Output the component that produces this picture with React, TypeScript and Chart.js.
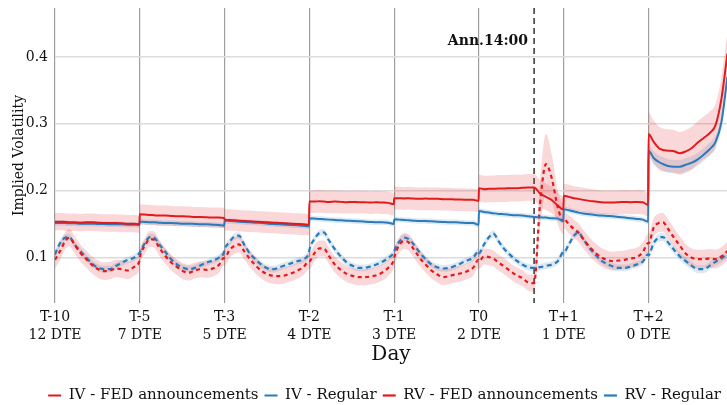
import React, { useEffect, useRef } from "react";
import { Chart, registerables } from "chart.js";

Chart.register(...registerables);

const FONT = "'DejaVu Serif', serif";
const RED = "#e31a1c";
const BLUE = "#2b7bba";
const RED_BAND = "rgba(227,26,28,0.17)";
const BLUE_BAND = "rgba(43,123,186,0.16)";

const DAY_LABELS = ["T-10", "T-5", "T-3", "T-2", "T-1", "T0", "T+1", "T+2"];
const DTE_LABELS = ["12 DTE", "7 DTE", "5 DTE", "4 DTE", "3 DTE", "2 DTE", "1 DTE", "0 DTE"];
const Y_TICKS = [0.1, 0.2, 0.3, 0.4];
const X_MAX = 7.925;
const Y_MIN = 0.0325;
const Y_MAX = 0.473;
const ANN_X = 5.65;
const ANN_LABEL = "Ann.14:00";
const ANN_LABEL_Y = 0.4235;

// position of each intraday sample within a day (fraction of the day)
const DAY_FRAC = [0, 0.06, 0.12, 0.17, 0.23, 0.3, 0.37, 0.44, 0.51, 0.58, 0.65, 0.72, 0.79, 0.86, 0.93, 0.995];

const IV_FED = [
  [0.154, 0.154, 0.1535, 0.153, 0.153, 0.1525, 0.153, 0.153, 0.1525, 0.152, 0.152, 0.152, 0.1515, 0.151, 0.151, 0.15],
  [0.165, 0.1645, 0.164, 0.1635, 0.163, 0.163, 0.1625, 0.162, 0.162, 0.1615, 0.161, 0.161, 0.1605, 0.16, 0.16, 0.1595],
  [0.157, 0.1565, 0.156, 0.1555, 0.155, 0.1545, 0.154, 0.1535, 0.153, 0.1525, 0.152, 0.1515, 0.151, 0.1505, 0.15, 0.1495],
  [0.184, 0.184, 0.1845, 0.184, 0.1835, 0.184, 0.1835, 0.183, 0.1835, 0.183, 0.183, 0.1825, 0.183, 0.1825, 0.182, 0.18],
  [0.189, 0.189, 0.1885, 0.189, 0.1885, 0.188, 0.1885, 0.188, 0.188, 0.1875, 0.1875, 0.187, 0.187, 0.1865, 0.1865, 0.185],
  [0.204, 0.2025, 0.203, 0.203, 0.2035, 0.2035, 0.204, 0.204, 0.2045, 0.205, 0.205, 0.196, 0.191, 0.186, 0.178, 0.172],
  [0.1925, 0.191, 0.189, 0.188, 0.1865, 0.185, 0.184, 0.183, 0.1825, 0.1825, 0.183, 0.1835, 0.183, 0.1835, 0.183, 0.179],
  [0.285, 0.273, 0.264, 0.261, 0.26, 0.259, 0.256, 0.259, 0.264, 0.272, 0.279, 0.286, 0.298, 0.338, 0.405],
];

const IV_REG = [
  [0.152, 0.152, 0.152, 0.1515, 0.1515, 0.151, 0.151, 0.151, 0.1505, 0.1505, 0.15, 0.15, 0.15, 0.1495, 0.1495, 0.149],
  [0.154, 0.1535, 0.153, 0.153, 0.1525, 0.152, 0.152, 0.1515, 0.151, 0.151, 0.1505, 0.15, 0.15, 0.1495, 0.149, 0.148],
  [0.1555, 0.155, 0.1545, 0.154, 0.1535, 0.153, 0.1525, 0.152, 0.151, 0.1505, 0.15, 0.1495, 0.149, 0.1485, 0.148, 0.147],
  [0.159, 0.1585, 0.158, 0.1575, 0.157, 0.1565, 0.156, 0.1555, 0.155, 0.1545, 0.154, 0.1535, 0.153, 0.153, 0.1525, 0.1505],
  [0.1575, 0.157, 0.1565, 0.156, 0.1555, 0.155, 0.155, 0.1545, 0.154, 0.1535, 0.153, 0.153, 0.1525, 0.152, 0.152, 0.149],
  [0.17, 0.1685, 0.1675, 0.1665, 0.1655, 0.165, 0.164, 0.1635, 0.163, 0.162, 0.161, 0.1605, 0.16, 0.159, 0.1585, 0.155],
  [0.1725, 0.171, 0.169, 0.1675, 0.166, 0.165, 0.164, 0.163, 0.1625, 0.162, 0.161, 0.16, 0.159, 0.158, 0.157, 0.154],
  [0.26, 0.249, 0.243, 0.24, 0.237, 0.236, 0.236, 0.239, 0.242, 0.247, 0.254, 0.262, 0.273, 0.303, 0.37],
];

const RV_FED = [
  [0.097, 0.11, 0.125, 0.13, 0.12, 0.107, 0.098, 0.089, 0.083, 0.08, 0.081, 0.084, 0.083, 0.081, 0.086, 0.095],
  [0.1, 0.118, 0.128, 0.127, 0.115, 0.103, 0.093, 0.086, 0.08, 0.078, 0.081, 0.083, 0.082, 0.084, 0.089, 0.1],
  [0.1, 0.112, 0.118, 0.12, 0.11, 0.098, 0.088, 0.08, 0.075, 0.073, 0.0725, 0.074, 0.077, 0.081, 0.086, 0.095],
  [0.095, 0.107, 0.114, 0.114, 0.103, 0.09, 0.082, 0.076, 0.073, 0.071, 0.071, 0.072, 0.074, 0.078, 0.085, 0.097],
  [0.1, 0.119, 0.125, 0.123, 0.113, 0.1, 0.09, 0.081, 0.075, 0.071, 0.073, 0.075, 0.077, 0.08, 0.085, 0.097],
  [0.095, 0.102, 0.101, 0.099, 0.093, 0.087, 0.08, 0.074, 0.07, 0.063, 0.062, 0.18, 0.24, 0.218, 0.175, 0.155],
  [0.158, 0.15, 0.143, 0.138, 0.128, 0.117, 0.108, 0.101, 0.097, 0.095, 0.096, 0.097, 0.099, 0.101, 0.108, 0.122],
  [0.122, 0.145, 0.152, 0.153, 0.143, 0.13, 0.118, 0.106, 0.1, 0.098, 0.098, 0.099, 0.098, 0.102, 0.11],
];

const RV_REG = [
  [0.105, 0.122, 0.13, 0.131, 0.12, 0.11, 0.1, 0.091, 0.085, 0.083, 0.083, 0.088, 0.093, 0.097, 0.1, 0.107],
  [0.108, 0.122, 0.131, 0.13, 0.12, 0.109, 0.098, 0.09, 0.085, 0.083, 0.085, 0.089, 0.093, 0.096, 0.1, 0.109],
  [0.112, 0.124, 0.132, 0.133, 0.12, 0.106, 0.097, 0.089, 0.084, 0.083, 0.086, 0.089, 0.092, 0.095, 0.098, 0.108],
  [0.112, 0.128, 0.137, 0.138, 0.126, 0.113, 0.102, 0.093, 0.088, 0.085, 0.085, 0.087, 0.09, 0.094, 0.1, 0.108],
  [0.11, 0.124, 0.13, 0.128, 0.12, 0.108, 0.098, 0.09, 0.086, 0.084, 0.085, 0.088, 0.092, 0.096, 0.1, 0.11],
  [0.107, 0.12, 0.131, 0.136, 0.125, 0.113, 0.104, 0.096, 0.09, 0.086, 0.085, 0.086, 0.088, 0.09, 0.095, 0.108],
  [0.108, 0.12, 0.133, 0.138, 0.128, 0.115, 0.105, 0.096, 0.091, 0.087, 0.085, 0.085, 0.087, 0.09, 0.094, 0.105],
  [0.104, 0.122, 0.13, 0.131, 0.123, 0.112, 0.102, 0.095, 0.088, 0.083, 0.083, 0.088, 0.094, 0.099, 0.106],
];

// half-width of the shaded confidence band, per day (or per sample)
const IV_FED_BAND: (number | number[])[] = [0.013, 0.015, 0.016, 0.017, 0.017, 0.02, 0.018, 0.032];
const IV_REG_BAND: (number | number[])[] = [0.004, 0.004, 0.004, 0.004, 0.004, 0.004, 0.004, 0.01];
const RV_FED_BAND: (number | number[])[] = [
  0.013, 0.012, 0.012, 0.012, 0.012,
  [0.012, 0.012, 0.012, 0.012, 0.012, 0.012, 0.012, 0.012, 0.012, 0.012, 0.013, 0.035, 0.045, 0.035, 0.025, 0.02],
  0.014, 0.014,
];
const RV_REG_BAND: (number | number[])[] = [0.005, 0.005, 0.005, 0.005, 0.005, 0.005, 0.005, 0.006];

function toPoints(vals: number[][], widths?: (number | number[])[], sign = 0) {
  const pts: { x: number; y: number }[] = [];
  vals.forEach((day, d) => {
    day.forEach((v, i) => {
      let w = 0;
      if (widths) {
        const wd = widths[d];
        w = Array.isArray(wd) ? wd[i] : wd;
      }
      pts.push({ x: d + DAY_FRAC[i], y: v + sign * w });
    });
  });
  return pts;
}

function lineDs(label: string, vals: number[][], color: string, dash: number[], width: number) {
  return {
    label,
    data: toPoints(vals),
    borderColor: color,
    backgroundColor: color,
    borderWidth: width,
    borderDash: dash,
    pointRadius: 0,
    fill: false,
    cubicInterpolationMode: "monotone" as const,
    order: 0,
  };
}

function bandDs(vals: number[][], widths: (number | number[])[], color: string) {
  return [
    {
      label: "band-lo",
      data: toPoints(vals, widths, -1),
      borderWidth: 0,
      borderColor: "rgba(0,0,0,0)",
      pointRadius: 0,
      fill: false,
      cubicInterpolationMode: "monotone" as const,
      order: 5,
    },
    {
      label: "band-hi",
      data: toPoints(vals, widths, 1),
      borderWidth: 0,
      borderColor: "rgba(0,0,0,0)",
      backgroundColor: color,
      pointRadius: 0,
      fill: "-1",
      cubicInterpolationMode: "monotone" as const,
      order: 5,
    },
  ];
}

const annPlugin = {
  id: "annLine",
  beforeDatasetsDraw(chart: any) {
    const { ctx, chartArea, scales } = chart;
    const px = scales.x.getPixelForValue(ANN_X);
    ctx.save();
    ctx.strokeStyle = "#333";
    ctx.lineWidth = 1.5;
    ctx.setLineDash([6, 4]);
    ctx.beginPath();
    ctx.moveTo(px, chartArea.top);
    ctx.lineTo(px, chartArea.bottom);
    ctx.stroke();
    ctx.restore();
  },
  afterDatasetsDraw(chart: any) {
    const { ctx, scales } = chart;
    const px = scales.x.getPixelForValue(ANN_X);
    ctx.save();
    ctx.font = `bold 14px ${FONT}`;
    ctx.fillStyle = "#111";
    ctx.textAlign = "right";
    ctx.textBaseline = "middle";
    ctx.fillText(ANN_LABEL, px - 6, scales.y.getPixelForValue(ANN_LABEL_Y));
    ctx.restore();
  },
};

export default function App() {
  const ref = useRef<HTMLCanvasElement>(null);
  useEffect(() => {
    document.body.style.margin = "0";
    const chart = new Chart(ref.current!, {
      type: "line",
      data: {
        datasets: [
          lineDs("IV - FED announcements", IV_FED, RED, [], 2),
          lineDs("IV - Regular", IV_REG, BLUE, [], 2),
          lineDs("RV - FED announcements", RV_FED, RED, [4, 3.5], 2.2),
          lineDs("RV - Regular", RV_REG, BLUE, [5, 3.5], 2.2),
          ...bandDs(IV_FED, IV_FED_BAND, RED_BAND),
          ...bandDs(IV_REG, IV_REG_BAND, BLUE_BAND),
          ...bandDs(RV_FED, RV_FED_BAND, RED_BAND),
          ...bandDs(RV_REG, RV_REG_BAND, BLUE_BAND),
        ] as any,
      },
      options: {
        animation: false,
        responsive: true,
        maintainAspectRatio: false,
        layout: { padding: { top: 8, right: 0, bottom: -8, left: 0 } },
        plugins: {
          tooltip: { enabled: false },
          legend: {
            position: "bottom",
            align: "end",
            labels: {
              font: { family: FONT, size: 15 },
              color: "#111",
              usePointStyle: true,
              pointStyle: "line",
              pointStyleWidth: 13,
              padding: 6,
              filter: (item: any) => item.datasetIndex < 4,
            },
          },
        },
        scales: {
          x: {
            type: "linear",
            min: 0,
            max: X_MAX,
            afterBuildTicks: (scale: any) => {
              scale.ticks = DAY_LABELS.map((_, i) => ({ value: i }));
            },
            afterFit: (scale: any) => {
              scale.height = 79;
              scale.paddingLeft = 0;
              scale.paddingRight = 0;
            },
            ticks: {
              padding: 6,
              color: "#111",
              font: { family: FONT, size: 14, lineHeight: 1.25 },
              maxRotation: 0,
              autoSkip: false,
              callback: (v: any) => [DAY_LABELS[v], DTE_LABELS[v]],
            },
            grid: { color: "rgba(0,0,0,0.38)", lineWidth: 1.2, drawTicks: false },
            border: { display: false },
            title: {
              display: true,
              text: "Day",
              color: "#111",
              font: { family: FONT, size: 20 },
              padding: { top: 0, bottom: 15 },
            },
          },
          y: {
            type: "linear",
            min: Y_MIN,
            max: Y_MAX,
            afterBuildTicks: (scale: any) => {
              scale.ticks = Y_TICKS.map((v) => ({ value: v }));
            },
            afterFit: (scale: any) => {
              scale.width = 55;
              scale.paddingTop = 0;
              scale.paddingBottom = 0;
            },
            ticks: {
              padding: 7,
              color: "#111",
              font: { family: FONT, size: 14 },
              callback: (v: any) => Number(v).toFixed(1),
            },
            grid: { color: "#dcdcdc", lineWidth: 1.5, drawTicks: false },
            border: { display: false },
            title: {
              display: true,
              text: "Implied Volatility",
              color: "#111",
              font: { family: FONT, size: 14 },
              padding: { top: 11, bottom: 0 },
            },
          },
        },
      },
      plugins: [annPlugin],
    });
    return () => chart.destroy();
  }, []);
  return (
    <div style={{ width: 727, height: 405, position: "relative" }}>
      <canvas ref={ref} />
    </div>
  );
}
